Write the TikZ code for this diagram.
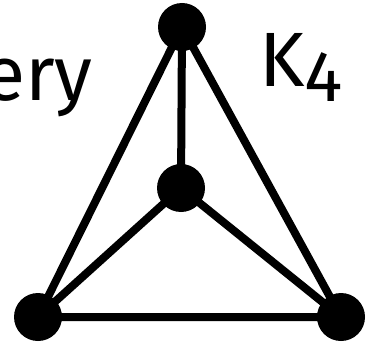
\documentclass[tikz,border=0pt]{standalone}
\usepackage{fontspec}
\setmainfont{Fira Sans}
\usetikzlibrary{positioning}
\tikzset{
  vtx/.style  = {circle, fill=black, inner sep=0pt, minimum size=48pt},
  edge/.style = {line width=8pt},
  big/.style  = {font=\fontsize{77}{90}\selectfont, inner sep=0pt},
}
\begin{document}
\begin{tikzpicture}[x=1pt, y=-1pt]
  \useasboundingbox (0,0) rectangle (366,342);
  \node[vtx] (top) at (182,27) {};
  \node[vtx] (mid) at (181,188) {};
  \node[vtx] (bl) at (38,317) {};
  \node[vtx] (br) at (341,317) {};
  \draw[edge] (top.center)--(bl.center) (top.center)--(br.center) (top.center)--(mid.center);
  \draw[edge] (mid.center)--(bl.center) (mid.center)--(br.center) (bl.center)--(br.center);
  \node[big, anchor=base east] (every) at (93,100) {Every};
  \node[big, anchor=base west] (k4) at (259,87) {K\raisebox{-15pt}{\fontsize{72}{80}\selectfont 4}};
\end{tikzpicture}
\end{document}
